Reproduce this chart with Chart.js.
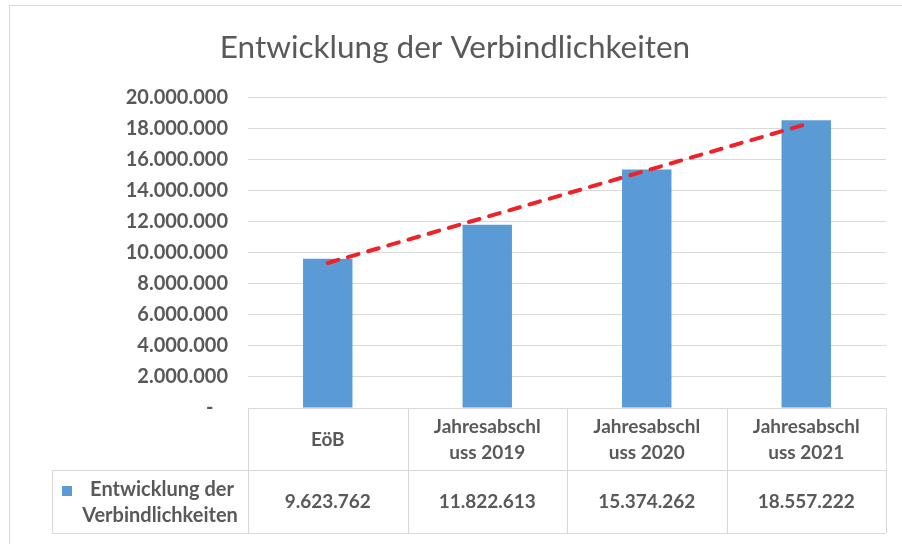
<!DOCTYPE html>
<html lang="de">
<head>
    <meta charset="UTF-8">
    <title>Entwicklung der Verbindlichkeiten</title>
    <script src="https://cdn.jsdelivr.net/npm/chart.js"></script>
    <style>
        body {
            margin: 0;
            background-color: #ffffff;
        }

        .chart-box {
            width: 902px;
            height: 544px;
        }
    </style>
</head>
<body>
    <div class="chart-box">
        <canvas id="debtChart"></canvas>
    </div>

    <script>
        // Data
        const categories = [
            ['EöB'],
            ['Jahresabschl', 'uss 2019'],
            ['Jahresabschl', 'uss 2020'],
            ['Jahresabschl', 'uss 2021']
        ];
        const debtValues = [9623762, 11822613, 15374262, 18557222];
        // linear trend line, start and end as seen in the picture
        const trendValues = [9350000, null, null, 18300000];
        const seriesName = ['Entwicklung der', 'Verbindlichkeiten'];
        const yMax = 20000000;
        const yStep = 2000000;

        const textColor = '#595959';
        const lineColor = '#d9d9d9';
        const barColor = '#5b9bd5';
        const fontFamily = 'Lato, "Open Sans", sans-serif';

        function formatDe(n) {
            return String(n).replace(/\B(?=(\d{3})+(?!\d))/g, '.');
        }

        // Draws the frame and the data table under the plot area
        const dataTablePlugin = {
            id: 'dataTable',
            afterDraw(chart) {
                const ctx = chart.ctx;
                const area = chart.chartArea;
                const x = chart.scales.x;
                const n = categories.length;
                const colW = (area.right - area.left) / n;
                const top = area.bottom;
                const mid = top + 62;
                const bottom = top + 125;
                const legendLeft = 52;

                ctx.save();
                ctx.strokeStyle = lineColor;
                ctx.lineWidth = 1;
                ctx.beginPath();
                // outer chart frame (top and left visible)
                ctx.moveTo(9.5, 544);
                ctx.lineTo(9.5, 5.5);
                ctx.lineTo(902, 5.5);
                // table lines
                ctx.moveTo(area.left, top + 0.5);
                ctx.lineTo(area.right, top + 0.5);
                ctx.moveTo(legendLeft, mid + 0.5);
                ctx.lineTo(area.right, mid + 0.5);
                ctx.moveTo(legendLeft, bottom + 0.5);
                ctx.lineTo(area.right, bottom + 0.5);
                ctx.moveTo(legendLeft + 0.5, mid);
                ctx.lineTo(legendLeft + 0.5, bottom);
                for (let i = 0; i <= n; i++) {
                    const cx = Math.round(area.left + i * colW) + 0.5;
                    ctx.moveTo(cx, top);
                    ctx.lineTo(cx, bottom);
                }
                ctx.stroke();

                ctx.fillStyle = textColor;
                ctx.font = 'bold 19px ' + fontFamily;
                ctx.textAlign = 'center';
                ctx.textBaseline = 'middle';
                for (let i = 0; i < n; i++) {
                    const cx = x.getPixelForValue(i);
                    const lines = categories[i];
                    const lh = 26;
                    const y0 = (top + mid) / 2 + 1 - (lines.length - 1) * lh / 2;
                    lines.forEach((t, j) => ctx.fillText(t, cx, y0 + j * lh));
                    ctx.fillText(formatDe(debtValues[i]), cx, (mid + bottom) / 2);
                }

                // legend key in the first column of the table
                ctx.fillStyle = barColor;
                ctx.fillRect(62, 486, 10, 10);
                ctx.fillStyle = textColor;
                ctx.font = 'bold 20px ' + fontFamily;
                ctx.fillText(seriesName[0], 162, 490);
                ctx.fillText(seriesName[1], 160, 516);
                ctx.restore();
            }
        };

        const debtChart = new Chart(document.getElementById('debtChart'), {
            type: 'bar',
            data: {
                labels: categories,
                datasets: [{
                    type: 'line',
                    label: 'Trend',
                    data: trendValues,
                    borderColor: '#ee2229',
                    borderWidth: 4,
                    borderDash: [11, 10],
                    borderCapStyle: 'round',
                    pointRadius: 0,
                    spanGaps: true,
                    fill: false,
                    order: 0
                }, {
                    label: seriesName.join(' '),
                    data: debtValues,
                    backgroundColor: barColor,
                    categoryPercentage: 1,
                    barPercentage: 0.31,
                    order: 1
                }]
            },
            options: {
                responsive: true,
                maintainAspectRatio: false,
                animation: false,
                layout: {
                    padding: { top: 10, right: 16, bottom: 136, left: 24 }
                },
                plugins: {
                    legend: { display: false },
                    tooltip: { enabled: false },
                    title: {
                        display: true,
                        text: 'Entwicklung der Verbindlichkeiten',
                        color: textColor,
                        font: { family: fontFamily, size: 31.5, weight: 'normal' },
                        padding: { top: 19, bottom: 31 }
                    }
                },
                scales: {
                    x: {
                        display: false
                    },
                    y: {
                        min: 0,
                        max: yMax,
                        afterFit(scale) {
                            scale.width = 224;
                        },
                        border: { display: false },
                        grid: {
                            color: lineColor,
                            lineWidth: 1,
                            drawTicks: false
                        },
                        ticks: {
                            stepSize: yStep,
                            padding: 20,
                            color: textColor,
                            font: { family: fontFamily, size: 20, weight: 'bold' },
                            callback: (v) => v === 0 ? '-   ' : formatDe(v)
                        }
                    }
                }
            },
            plugins: [dataTablePlugin]
        });
    </script>
</body>
</html>
